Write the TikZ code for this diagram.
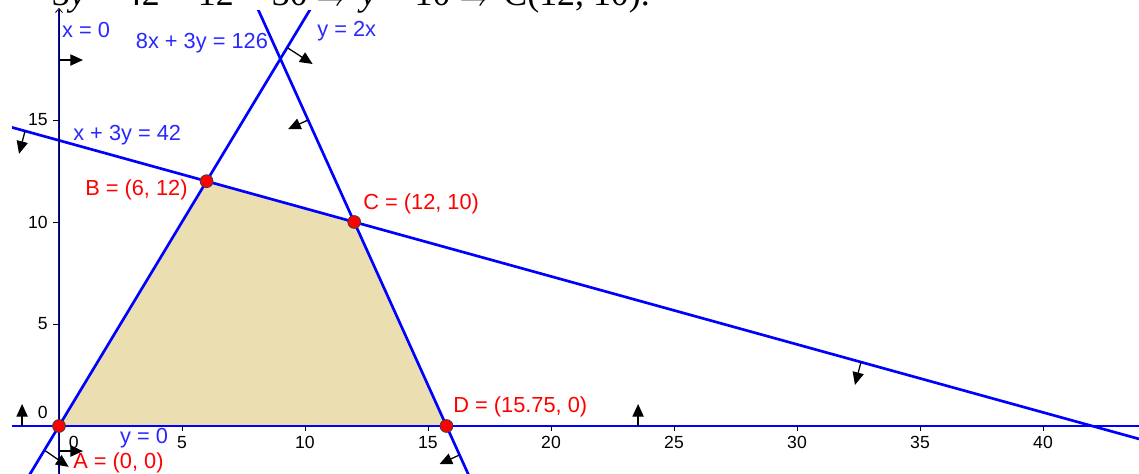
\documentclass[tikz,border=0pt]{standalone}
\usepackage{fontspec}
\setmainfont{Liberation Sans}
\newfontfamily\headserif{Liberation Serif}
\usetikzlibrary{arrows.meta,positioning}

\definecolor{ggblue}{RGB}{0,0,255}
\definecolor{gglabel}{RGB}{40,40,255}
\definecolor{ggred}{RGB}{255,0,0}
\definecolor{feasible}{RGB}{235,223,178}

\begin{document}
\begin{tikzpicture}[x=0.615cm, y=0.51cm,
  every node/.style={inner sep=0pt},
  bnd/.style={ggblue, line width=1.9pt},
  axis/.style={black, line width=0.6pt},
  tick/.style={black, line width=0.6pt},
  ticklbl/.style={font=\fontsize{12.5}{14}\selectfont},
  eqlbl/.style={text=gglabel, font=\fontsize{15.5}{18}\selectfont},
  ptlbl/.style={text=ggred, font=\fontsize{15.5}{18}\selectfont},
  vtx/.style={circle, fill=ggred, draw=black!75, line width=0.6pt, minimum size=0.32cm},
  side/.style={black, line width=0.9pt, -{Triangle[length=9pt,width=8pt]}},
]
\useasboundingbox (-2.398,-2.353) rectangle (43.902,20.882);

% cut-off line of text above the graph
\node[anchor=base west, font=\headserif\fontsize{25.5}{30}\selectfont] (head) at (-0.3,20.62)
  {3\textit{y} = 42 − 12 = 30 $\Rightarrow$ \textit{y} = 10 $\Rightarrow$ C(12, 10).};

% corners of the feasible region
\coordinate (a) at (0,0);
\coordinate (b) at (6,12);
\coordinate (c) at (12,10);
\coordinate (d) at (15.75,0);

\begin{scope}
  \clip (-1.91,-2.36) rectangle (43.91,20.39);
  \fill[feasible] (a) -- (b) -- (c) -- (d) -- cycle;
  \draw[axis] (-1.91,0) -- (43.91,0);
  % boundary lines
  \draw[bnd] (0,-3) -- (0,22);           % x = 0
  \draw[bnd] (-3,0) -- (45,0);           % y = 0
  \draw[bnd] (-2,-4) -- (11,22);         % y = 2x
  \draw[bnd] (7,23.333) -- (17.25,-4);   % 8x + 3y = 126
  \draw[bnd] (-3,15) -- (45,-1);         % x + 3y = 42
\end{scope}
\draw[axis, -{Straight Barb[length=3pt,width=5pt]}] (0,-2.36) -- (0,20.5);

% ticks and tick labels
\foreach \t in {5,10,...,40} {
  \draw[tick] (\t,0) -- ++(0,-0.12cm);
  \node[ticklbl] (xt\t) at (\t,-0.83) {\t};
}
\foreach \t in {5,10,15} {
  \draw[tick] (0,\t) -- ++(-0.15cm,0);
  \node[ticklbl, anchor=east] (yt\t) at (-0.45,\t) {\t};
}
\node[ticklbl] (xt0) at (0.6,-0.83) {0};
\node[ticklbl, anchor=east] (yt0) at (-0.45,0.64) {0};

% line labels
\node[eqlbl, anchor=west] (lx) at (0.12,19.41) {x = 0};
\node[eqlbl] (lc) at (5.81,18.77) {8x + 3y = 126};
\node[eqlbl, anchor=west] (lr) at (10.49,19.36) {y = 2x};
\node[eqlbl, anchor=west] (ls) at (0.57,14.26) {x + 3y = 42};
\node[eqlbl] (ly) at (3.46,-0.59) {y = 0};

% vertices and their labels
\node[vtx] (A) at (a) {};
\node[vtx] (B) at (b) {};
\node[vtx] (C) at (c) {};
\node[vtx] (D) at (d) {};
\node[ptlbl, anchor=west] (lA) at (0.57,-1.81) {A = (0, 0)};
\node[ptlbl, anchor=east] (lB) at (5.24,11.57) {B = (6, 12)};
\node[ptlbl, anchor=west] (lC) at (12.36,10.88) {C = (12, 10)};
\node[ptlbl, anchor=west] (lD) at (16.02,0.93) {D = (15.75, 0)};

% half-plane arrows
\draw[side] (0,17.94) -- ++(0.6cm,0);
\draw[side] (0,-1.23) -- ++(0.6cm,0);
\draw[side] (-1.5,0) -- ++(0,0.55cm);
\draw[side] (23.54,0) -- ++(0,0.55cm);
\draw[side] (9.3,18.53) -- ++(0.62cm,-0.4cm);
\draw[side] (-0.55,-1.22) -- ++(0.58cm,-0.4cm);
\draw[side] (10.125,15) -- ++(-0.5cm,-0.23cm);
\draw[side] (16.28,-1.42) -- ++(-0.5cm,-0.23cm);
\draw[side] (-1.38,14.46) -- ++(-0.15cm,-0.57cm);
\draw[side] (32.6,3.13) -- ++(-0.15cm,-0.57cm);
\end{tikzpicture}
\end{document}
